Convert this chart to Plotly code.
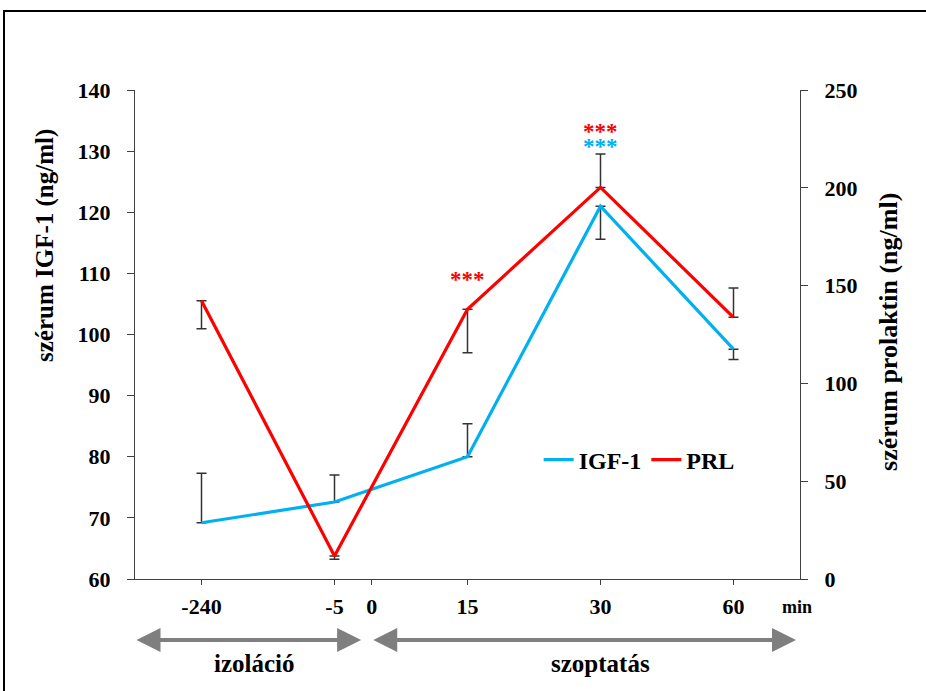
import plotly.graph_objects as go

# ---- data ----
time_labels = ["-240", "-5", "15", "30", "60"]
time_pos = [0, 1, 2, 3, 4]
tick_vals = [0, 1, 1.28, 2, 3, 4]
tick_text = ["-240", "-5", "0", "15", "30", "60"]

igf1 = [69.2, 72.6, 80.0, 121.0, 97.6]
igf1_err_plus = [8.1, 4.4, 5.4, 0, 0]
igf1_err_minus = [0, 0, 0, 5.4, 1.7]

prl = [142.3, 11.8, 137.9, 200.2, 133.8]
prl_err_plus = [0, 0, 0, 17.1, 15.0]
prl_err_minus = [14.3, 1.7, 22.2, 0, 0]

FONT = "Liberation Serif"
BLUE = "#00b0f0"
RED = "#ff0000"
GRAY = "#7f7f7f"
AX = "#404040"

fig = go.Figure()

fig.add_trace(go.Scatter(
    x=time_pos, y=igf1, mode="lines", name="IGF-1",
    line=dict(color=BLUE, width=3.2),
    error_y=dict(type="data", symmetric=False, array=igf1_err_plus,
                 arrayminus=igf1_err_minus, color="#333333", thickness=1.5, width=5),
    yaxis="y",
))
fig.add_trace(go.Scatter(
    x=time_pos, y=prl, mode="lines", name="PRL",
    line=dict(color=RED, width=3.2),
    error_y=dict(type="data", symmetric=False, array=prl_err_plus,
                 arrayminus=prl_err_minus, color="#333333", thickness=1.5, width=5),
    yaxis="y2",
))

tickfont = dict(family=FONT, size=22, color="black", weight="bold")

fig.update_layout(
    width=926, height=691,
    margin=dict(l=135, r=126, t=90, b=112),
    paper_bgcolor="white", plot_bgcolor="white",
    font=dict(family=FONT, size=22, color="black", weight="bold"),
    showlegend=True,
    legend=dict(orientation="h", x=0.607, y=0.2434, xanchor="left", yanchor="middle",
                font=dict(family=FONT, size=24, color="black", weight="bold"),
                itemwidth=30, bgcolor="rgba(0,0,0,0)", tracegroupgap=0),
    xaxis=dict(range=[-0.5, 4.5], tickvals=tick_vals, ticktext=tick_text,
               showgrid=False, zeroline=False, showline=True, linecolor=AX, linewidth=1.3,
               ticks="outside", ticklen=5, tickcolor=AX, tickwidth=1.3, tickfont=tickfont,
               ticklabelstandoff=2),
    yaxis=dict(range=[60, 140], dtick=10, showgrid=False, zeroline=False,
               showline=True, linecolor=AX, linewidth=1.3,
               ticks="outside", ticklen=7, tickcolor=AX, tickwidth=1.3, tickfont=tickfont,
               ticklabelstandoff=12),
    yaxis2=dict(range=[0, 250], dtick=50, overlaying="y", side="right",
                showgrid=False, zeroline=False, showline=True, linecolor=AX, linewidth=1.3,
                ticks="outside", ticklen=7, tickcolor=AX, tickwidth=1.3, tickfont=tickfont,
                ticklabelstandoff=12),
)

# axis titles
fig.add_annotation(text="szérum IGF-1 (ng/ml)", xref="paper", yref="paper",
                   x=-0.1353, y=(579 - 246) / 489.0, xanchor="center", yanchor="middle",
                   textangle=-90, showarrow=False,
                   font=dict(family=FONT, size=25, color="black", weight="bold"))
fig.add_annotation(text="szérum prolaktin (ng/ml)", xref="paper", yref="paper",
                   x=1.1323, y=(579 - 332) / 489.0, xanchor="center", yanchor="middle",
                   textangle=-90, showarrow=False,
                   font=dict(family=FONT, size=26, color="black", weight="bold"))
fig.add_annotation(text="min", xref="paper", yref="paper", x=(797 - 135) / 665.0,
                   y=(579 - 607) / 489.0, xanchor="center", yanchor="middle",
                   showarrow=False, font=dict(family=FONT, size=18, color="black", weight="bold"))

# significance stars
fig.add_annotation(text="***", x=2, y=156.6, xref="x", yref="y2", showarrow=False,
                   yshift=-7, font=dict(family=FONT, size=23, color=RED, weight="bold"))
fig.add_annotation(text="***", x=3, y=231.7, xref="x", yref="y2", showarrow=False,
                   yshift=-6, font=dict(family=FONT, size=23, color=RED, weight="bold"))
fig.add_annotation(text="***", x=3, y=132.1, xref="x", yref="y", showarrow=False,
                   yshift=-8, font=dict(family=FONT, size=23, color=BLUE, weight="bold"))

# phase arrows
arrow_y = (579 - 640) / 489.0
label_y = (579 - 663) / 489.0
for x0, x1 in [(-0.5, 1.2), (1.28, 4.47)]:
    fig.add_annotation(x=x1, y=arrow_y, xref="x", yref="paper",
                       ax=x0, ay=0, axref="x", ayref="pixel",
                       showarrow=True, arrowhead=2, startarrowhead=2,
                       arrowside="end+start", arrowwidth=4, arrowsize=1.2,
                       startarrowsize=1.2, arrowcolor=GRAY, text="")
fig.add_annotation(text="izoláció", x=0.4, y=label_y, xref="x", yref="paper",
                   xanchor="center", yanchor="middle",
                   showarrow=False, font=dict(family=FONT, size=25, color="black", weight="bold"))
fig.add_annotation(text="szoptatás", x=3.0, y=label_y, xref="x", yref="paper",
                   xanchor="center", yanchor="middle",
                   showarrow=False, font=dict(family=FONT, size=25, color="black", weight="bold"))

# outer frame
fig.add_shape(type="rect", xref="paper", yref="paper",
              x0=(4 - 135) / 665.0, x1=1.5, y0=-0.4, y1=(579 - 11) / 489.0,
              line=dict(color="black", width=2), fillcolor="rgba(0,0,0,0)", layer="below")

fig.write_html("out.html")
